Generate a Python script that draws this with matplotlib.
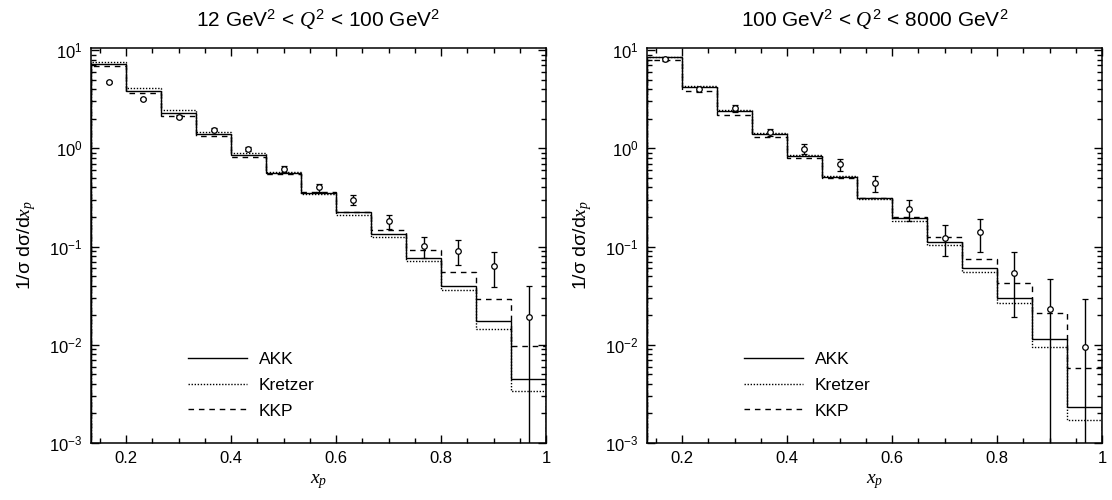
"""
Normalised x_p spectra in two Q^2 ranges: data points vs. AKK, Kretzer and KKP
step histograms on a log scale.
"""
import matplotlib
matplotlib.use("Agg")
import matplotlib.pyplot as plt
from matplotlib.ticker import MultipleLocator, FuncFormatter, LogLocator

plt.rcParams["font.family"] = ["Liberation Sans", "DejaVu Sans"]
plt.rcParams["mathtext.fontset"] = "custom"
plt.rcParams["mathtext.rm"] = "Liberation Sans"
plt.rcParams["mathtext.it"] = "Liberation Serif:italic"
plt.rcParams["mathtext.bf"] = "Liberation Sans:bold"

# bin edges and centres in x_p
EDGES = [0.1333, 0.2, 0.2667, 0.3333, 0.4, 0.4667, 0.5333, 0.6,
         0.6667, 0.7333, 0.8, 0.8667, 0.9333, 1.0]
CENTRES = [0.1667, 0.2333, 0.3, 0.3667, 0.4333, 0.5, 0.5667, 0.6333,
           0.7, 0.7667, 0.8333, 0.9, 0.9667]

# 12 < Q^2 < 100 GeV^2
akk_lo = [7.3, 3.86, 2.27, 1.40, 0.853, 0.556, 0.353, 0.223, 0.134, 0.0769, 0.040, 0.0176, 0.00448]
kretzer_lo = [7.55, 4.14, 2.43, 1.47, 0.895, 0.57, 0.345, 0.21, 0.126, 0.071, 0.036, 0.0145, 0.0034]
kkp_lo = [6.9, 3.68, 2.13, 1.32, 0.82, 0.543, 0.356, 0.226, 0.146, 0.092, 0.0555, 0.0294, 0.0097]
data_lo = [4.7, 3.2, 2.1, 1.55, 0.98, 0.62, 0.40, 0.30, 0.18, 0.101, 0.091, 0.063, 0.0193]
err_lo = [0.12, 0.09, 0.07, 0.06, 0.05, 0.04, 0.037, 0.038, 0.030, 0.025, 0.0255, 0.024, 0.0203]

# 100 < Q^2 < 8000 GeV^2
akk_hi = [8.43, 4.24, 2.39, 1.40, 0.84, 0.513, 0.314, 0.194, 0.112, 0.060, 0.0297, 0.0115, 0.00234]
kretzer_hi = [8.55, 4.3, 2.43, 1.42, 0.853, 0.52, 0.305, 0.182, 0.104, 0.0555, 0.0264, 0.0095, 0.00171]
kkp_hi = [7.9, 3.86, 2.16, 1.29, 0.79, 0.50, 0.31, 0.198, 0.124, 0.075, 0.0429, 0.0209, 0.00575]
data_hi = [8.1, 3.98, 2.55, 1.46, 0.99, 0.686, 0.44, 0.241, 0.123, 0.14, 0.0533, 0.023, 0.00955]
err_hi = [0.3, 0.2, 0.2, 0.11, 0.11, 0.1, 0.085, 0.06, 0.042, 0.052, 0.034, 0.0234, 0.020]

TITLES = [r"12 GeV$^2$ < $Q^2$ < 100 GeV$^2$",
          r"100 GeV$^2$ < $Q^2$ < 8000 GeV$^2$"]

fig = plt.figure(figsize=(11.12, 5.0), dpi=100)
ax_l = fig.add_axes([91 / 1112, 57 / 500, 455 / 1112, 395 / 500])
ax_r = fig.add_axes([647 / 1112, 57 / 500, 455 / 1112, 395 / 500])

panels = [(ax_l, akk_lo, kretzer_lo, kkp_lo, data_lo, err_lo),
          (ax_r, akk_hi, kretzer_hi, kkp_hi, data_hi, err_hi)]

for (ax, akk, kre, kkp, dat, err), title in zip(panels, TITLES):
    ax.stairs(akk, EDGES, color="black", lw=1.0, label="AKK")
    ax.stairs(kre, EDGES, color="black", lw=1.0, ls=(0, (1, 1.2)), label="Kretzer")
    ax.stairs(kkp, EDGES, color="black", lw=1.0, ls=(0, (4, 3.5)), label="KKP")
    ax.errorbar(CENTRES, dat, yerr=err, fmt="o", ms=4, mfc="white", mec="black",
                mew=0.9, ecolor="black", elinewidth=1.0, capsize=2.2, capthick=1.0)

    ax.set_yscale("log")
    ax.set_xlim(0.1333, 1.0)
    ax.set_ylim(1e-3, 10.5)
    ax.xaxis.set_major_locator(MultipleLocator(0.2))
    ax.xaxis.set_minor_locator(MultipleLocator(0.05))
    ax.xaxis.set_major_formatter(FuncFormatter(lambda v, _: f"{v:g}"))
    ax.yaxis.set_major_locator(LogLocator(base=10, numticks=10))
    ax.yaxis.set_minor_locator(LogLocator(base=10, subs=range(2, 10), numticks=10))
    ax.tick_params(which="both", direction="in", top=True, right=True,
                   labelsize=12, width=1.0)
    ax.tick_params(which="major", length=6, pad=6)
    ax.tick_params(which="minor", length=3.5)
    for s in ax.spines.values():
        s.set_linewidth(1.1)

    ax.set_xlabel(r"$x_p$", fontsize=14, labelpad=4)
    ax.set_ylabel(r"1/σ dσ/d$x_p$", fontsize=14, labelpad=8)
    ax.set_title(title, fontsize=15, pad=15)

    ax.legend(loc="lower left", bbox_to_anchor=(0.213, 0.062), frameon=False,
              fontsize=12.5, handlelength=3.4, handletextpad=0.7,
              labelspacing=0.6, borderpad=0, borderaxespad=0)

fig.savefig("out.png", dpi=100)
